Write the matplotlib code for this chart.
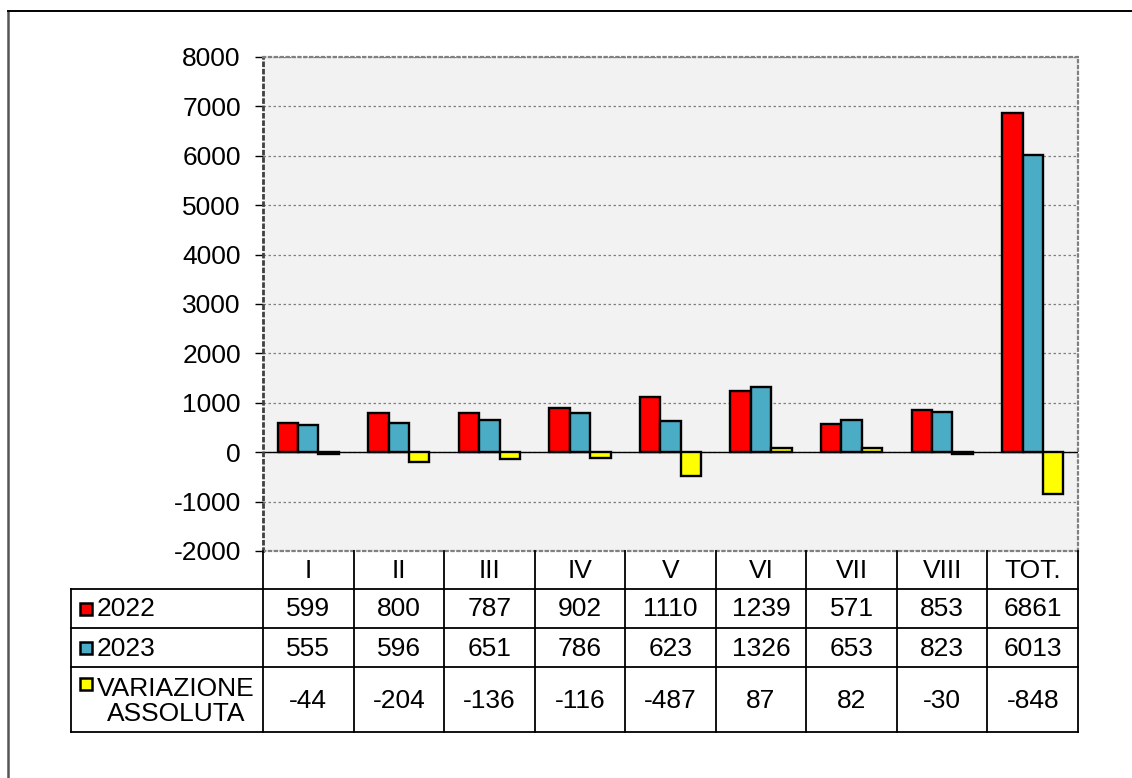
import numpy as np
import matplotlib
matplotlib.use("Agg")
import matplotlib.pyplot as plt
from matplotlib.patches import Rectangle

plt.rcParams['font.family'] = ['Liberation Sans', 'DejaVu Sans']

categories = ["I", "II", "III", "IV", "V", "VI", "VII", "VIII", "TOT."]
v2022 = [599, 800, 787, 902, 1110, 1239, 571, 853, 6861]
v2023 = [555, 596, 651, 786, 623, 1326, 653, 823, 6013]
variazione = [-44, -204, -136, -116, -487, 87, 82, -30, -848]
series_labels = ["2022", "2023", "VARIAZIONE\nASSOLUTA"]
colors = ["#ff0000", "#4bacc6", "#ffff00"]
yticks = list(range(-2000, 8001, 1000))

W, H = 1132, 778
FS = 19
fig = plt.figure(figsize=(W / 100, H / 100), dpi=100)

# plot area in pixel coords
px_l, px_r, px_t, px_b = 263, 1078, 57, 551
ax = fig.add_axes([px_l / W, 1 - px_b / H, (px_r - px_l) / W, (px_b - px_t) / H])
ax.set_facecolor("#f2f2f2")

x = np.arange(len(categories))
bw = 0.225
series = [v2022, v2023, variazione]
for i, vals in enumerate(series):
    ax.bar(x + (i - 1) * bw, vals, bw, color=colors[i], edgecolor="black",
           linewidth=1.7, zorder=3)

ax.set_xlim(-0.5, len(categories) - 0.5)
ax.set_ylim(-2000, 8000)
ax.set_yticks(yticks)
ax.set_yticklabels([str(t) for t in yticks], fontsize=FS)
ax.tick_params(axis="y", length=6, width=1, pad=10, direction="out")
ax.set_xticks([])
ax.grid(axis="y", color="#808080", linestyle=(0, (2, 2)), linewidth=0.9, zorder=1)
ax.axhline(0, color="black", linewidth=1, zorder=2)
for s in ["top", "right", "bottom"]:
    ax.spines[s].set_linestyle(":")
    ax.spines[s].set_color("#808080")
    ax.spines[s].set_linewidth(1.6)
ax.spines["left"].set_linestyle(":")
ax.spines["left"].set_color("#404040")
ax.spines["left"].set_linewidth(2)

# overlay for data table and frame
ov = fig.add_axes([0, 0, 1, 1], zorder=5)
ov.set_xlim(0, W)
ov.set_ylim(H, 0)
ov.axis("off")

# outer frame (left and top)
ov.plot([8, 8], [11, H], color="#555555", linewidth=1.8)
ov.plot([8, W], [11, 11], color="black", linewidth=1.4)

ncol = len(categories)
cw = (px_r - px_l) / ncol
col_x = [px_l + cw * i for i in range(ncol + 1)]
tab_l = 71
row_y = [px_b, 589, 628, 667, 732]
lw = 1.3

# table grid
for cx in col_x:
    ov.plot([cx, cx], [row_y[0], row_y[-1]], color="black", linewidth=lw)
ov.plot([tab_l, tab_l], [row_y[1], row_y[-1]], color="black", linewidth=lw)
for ry in row_y[1:]:
    ov.plot([tab_l, px_r], [ry, ry], color="black", linewidth=lw)

for i, c in enumerate(categories):
    ov.text(col_x[i] + cw / 2, (row_y[0] + row_y[1]) / 2 + 1, c, ha="center",
            va="center", fontsize=FS)

for r, vals in enumerate(series):
    yc = (row_y[r + 1] + row_y[r + 2]) / 2 + 1
    for i, v in enumerate(vals):
        ov.text(col_x[i] + cw / 2, yc, str(v), ha="center", va="center", fontsize=FS)
    if r < 2:
        ky = yc - 1
        ov.text(97, yc, series_labels[r], ha="left", va="center", fontsize=FS)
    else:
        ky = 684
        ov.text(176, yc + 1, series_labels[r], ha="center", va="center",
                fontsize=FS, linespacing=1.05, multialignment="center")
    ov.add_patch(Rectangle((80, ky - 6), 12, 12, facecolor=colors[r],
                           edgecolor="black", linewidth=1.8))

fig.savefig("out.png", dpi=100)
